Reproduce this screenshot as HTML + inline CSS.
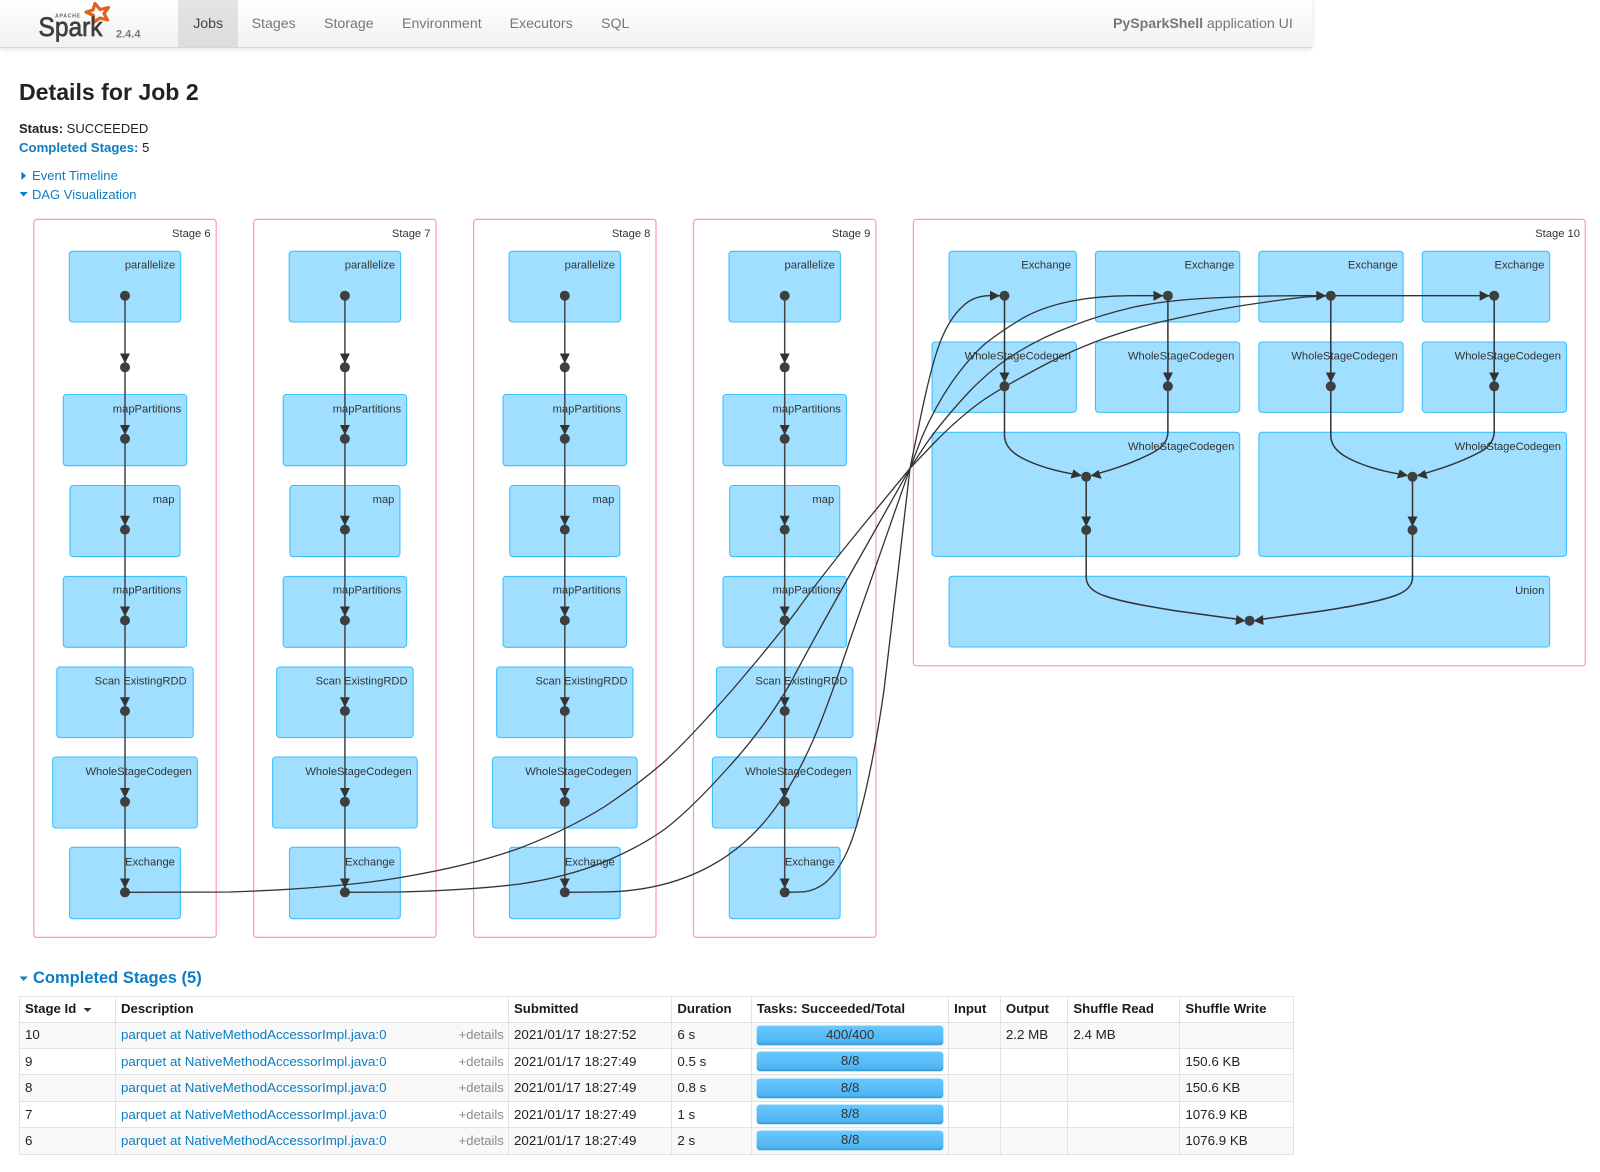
<!DOCTYPE html>
<html><head><meta charset="utf-8"><title>Details for Job 2</title>
<style>
html,body{margin:0;padding:0;background:#fff}
body{width:1600px;height:1172px;overflow:hidden;position:relative;font-family:"Liberation Sans",Arial,sans-serif;font-size:13px;color:#222}
#w{position:absolute;left:0;top:0;width:1600px;height:1172px;filter:blur(.3px)}
.a{position:absolute;white-space:nowrap}
a,.l{color:#0a7dc4;text-decoration:none}
#nav{position:absolute;left:0;top:0;width:1312px;height:47px;background:linear-gradient(#ffffff,#f1f1f1);border-bottom:1px solid #d5d5d5;box-shadow:0 1px 5px rgba(0,0,0,.12)}
#tab{position:absolute;left:178px;top:0;width:59.5px;height:47px;background:linear-gradient(#e4e4e4,#dcdcdc)}
.n{position:absolute;top:14.5px;font-size:14.2px;color:#777;line-height:18px;white-space:nowrap}
table{position:absolute;left:18.8px;top:996px;width:1274.4px;table-layout:fixed;border-collapse:collapse;font-size:13.35px;color:#222}
td,th{border:1.5px solid #e3e3e3;padding:0 0 0 5.2px;height:25.35px;text-align:left;overflow:hidden;white-space:nowrap;line-height:16px}
th{font-weight:bold;color:#1a1a1a;font-size:13.2px;height:24.8px}
tr.o td{background:#f8f8f8}
.b{height:19px;margin:0 5px 0 0.5px;border-radius:3px;background:linear-gradient(#66c8ff,#56b8f4 70%,#48ade9);text-align:center;line-height:18px;color:#333;box-shadow:0 -1.5px 0 #3a9ddd inset,0 0 0 .5px #7ccfff}
.d{float:right;color:#8a8a8a;margin-right:4px}
svg text{font-family:"Liberation Sans",Arial,sans-serif;font-size:11.2px;fill:#333}
</style></head><body><div id="w">
<div id="nav"><div id="tab"></div>
<svg class="a" style="left:0;top:0" width="170" height="47">
<polygon points="95,3.5 100,9.5 108.5,7.5 104,13.5 107.5,20 100,18 93.5,22.5 93.5,15.5 86,12 93,10" fill="none" stroke="#e0601e" stroke-width="3.2" stroke-linejoin="round"/>
<text x="55" y="17.5" style="font-size:5.2px;font-weight:bold;fill:#666;letter-spacing:.7px">APACHE</text>
<text x="38.5" y="36" textLength="64" lengthAdjust="spacingAndGlyphs" style="font-size:27px;fill:#3f3f3f;stroke:#3f3f3f;stroke-width:.7px">Spark</text>
<text x="116" y="37.5" style="font-size:11px;font-weight:bold;fill:#7a7a7a">2.4.4</text>
</svg>
<div class="n" style="left:193.2px;color:#444">Jobs</div>
<div class="n" style="left:251.6px">Stages</div>
<div class="n" style="left:324px">Storage</div>
<div class="n" style="left:402px">Environment</div>
<div class="n" style="left:509.6px">Executors</div>
<div class="n" style="left:601px">SQL</div>
<div class="n" style="left:1113px;color:#777"><b style="letter-spacing:-.06px">PySparkShell</b> application UI</div>
</div>

<div class="a" style="left:19px;top:77.5px;font-size:23.1px;font-weight:bold;line-height:28px;color:#222">Details for Job 2</div>
<div class="a" style="left:19px;top:120.5px;line-height:16px"><b>Status:</b> SUCCEEDED</div>
<div class="a" style="left:19px;top:139.5px;line-height:16px"><b class="l" style="font-size:13.2px">Completed Stages:</b> 5</div>
<div class="a l" style="left:32px;top:167.5px;line-height:16px;font-size:13.1px">Event Timeline</div>
<div class="a l" style="left:32px;top:186.5px;line-height:16px">DAG Visualization</div>
<div class="a l" style="left:33px;top:968px;font-size:16.5px;font-weight:bold;line-height:21px">Completed Stages (5)</div>

<svg class="a" style="left:0;top:0" width="1600" height="1172" viewBox="0 0 1600 1172">
<polygon points="21.4,171.5 26,175.7 21.4,180" fill="#0a7dc4"/>
<polygon points="19.6,192 27.7,192 23.6,196.5" fill="#0a7dc4"/>
<polygon points="19.6,976.5 27.7,976.5 23.6,981" fill="#0a7dc4"/>
<polygon points="83.5,1008 91.5,1008 87.5,1012" fill="#333"/>

<defs>
<g id="sb">
<rect x="-91.2" y="219.4" width="182.4" height="718" rx="3" fill="#fff" stroke="#ff99ac" stroke-width="1.2"/>
<g fill="#a0dfff" stroke="#3ec0ff" stroke-width="1.1">
<rect x="-55.7" y="251.3" width="111.4" height="70.7" rx="3"/>
<rect x="-61.7" y="394.5" width="123.4" height="71.2" rx="3"/>
<rect x="-55" y="485.5" width="110" height="71.1" rx="3"/>
<rect x="-61.7" y="576.4" width="123.4" height="70.9" rx="3"/>
<rect x="-68.2" y="667" width="136.4" height="70.6" rx="3"/>
<rect x="-72.3" y="757" width="144.6" height="71" rx="3"/>
<rect x="-55.4" y="847.3" width="110.8" height="71.4" rx="3"/>
</g>
</g>
<g id="sd">
<line x1="0" y1="295.7" x2="0" y2="892.3" stroke="#444" stroke-width="1.5"/>
<g fill="#333">
<polygon points="-5,353.5 5,353.5 0,363.5"/>
<polygon points="-5,425 5,425 0,435"/>
<polygon points="-5,515.8 5,515.8 0,525.8"/>
<polygon points="-5,606.5 5,606.5 0,616.5"/>
<polygon points="-5,697.2 5,697.2 0,707.2"/>
<polygon points="-5,788 5,788 0,798"/>
<polygon points="-5,878.5 5,878.5 0,888.5"/>
</g>
<g fill="#3f3f3f">
<circle cy="295.7" r="5"/><circle cy="367.3" r="5"/><circle cy="438.8" r="5"/><circle cy="529.6" r="5"/><circle cy="620.4" r="5"/><circle cy="711" r="5"/><circle cy="801.8" r="5"/><circle cy="892.3" r="5"/>
</g>
</g>
</defs>

<use href="#sb" x="125" y="0"/><use href="#sb" x="344.9" y="0"/><use href="#sb" x="564.8" y="0"/><use href="#sb" x="784.7" y="0"/>

<rect x="913.4" y="219.4" width="671.9" height="446.4" rx="3" fill="#fff" stroke="#ff99ac" stroke-width="1.2"/>
<g fill="#a0dfff" stroke="#3ec0ff" stroke-width="1.1">
<rect x="949.1" y="251.3" width="127.2" height="70.7" rx="3"/>
<rect x="1095.5" y="251.3" width="144.2" height="70.7" rx="3"/>
<rect x="1258.9" y="251.3" width="144.2" height="70.7" rx="3"/>
<rect x="1422.3" y="251.3" width="127.3" height="70.7" rx="3"/>
<rect x="932.1" y="342" width="144.2" height="70.3" rx="3"/>
<rect x="1095.5" y="342" width="144.2" height="70.3" rx="3"/>
<rect x="1258.9" y="342" width="144.2" height="70.3" rx="3"/>
<rect x="1422.3" y="342" width="144.2" height="70.3" rx="3"/>
<rect x="932.1" y="432.3" width="307.6" height="124" rx="3"/>
<rect x="1258.9" y="432.3" width="307.6" height="124" rx="3"/>
<rect x="949.1" y="576.3" width="600.5" height="70.7" rx="3"/>
</g>

<g text-anchor="end">
<text x="210.6" y="237">Stage 6</text><text x="175.2" y="268.4">parallelize</text><text x="181.2" y="412.3">mapPartitions</text><text x="174.5" y="502.9">map</text><text x="181.2" y="593.4">mapPartitions</text><text x="186.7" y="684.3">Scan ExistingRDD</text><text x="191.8" y="774.9">WholeStageCodegen</text><text x="174.9" y="865.4">Exchange</text>
<text x="430.5" y="237">Stage 7</text><text x="395.1" y="268.4">parallelize</text><text x="401.1" y="412.3">mapPartitions</text><text x="394.4" y="502.9">map</text><text x="401.1" y="593.4">mapPartitions</text><text x="407.6" y="684.3">Scan ExistingRDD</text><text x="411.7" y="774.9">WholeStageCodegen</text><text x="394.8" y="865.4">Exchange</text>
<text x="650.4" y="237">Stage 8</text><text x="615" y="268.4">parallelize</text><text x="621" y="412.3">mapPartitions</text><text x="614.3" y="502.9">map</text><text x="621" y="593.4">mapPartitions</text><text x="627.5" y="684.3">Scan ExistingRDD</text><text x="631.6" y="774.9">WholeStageCodegen</text><text x="614.7" y="865.4">Exchange</text>
<text x="870.3" y="237">Stage 9</text><text x="834.9" y="268.4">parallelize</text><text x="840.9" y="412.3">mapPartitions</text><text x="834.2" y="502.9">map</text><text x="840.9" y="593.4">mapPartitions</text><text x="847.4" y="684.3">Scan ExistingRDD</text><text x="851.5" y="774.9">WholeStageCodegen</text><text x="834.6" y="865.4">Exchange</text>
<text x="1580" y="237">Stage 10</text>
<text x="1071" y="268.4">Exchange</text><text x="1234.3" y="268.4">Exchange</text><text x="1397.7" y="268.4">Exchange</text><text x="1544.3" y="268.4">Exchange</text>
<text x="1071" y="359.4">WholeStageCodegen</text><text x="1234.3" y="359.4">WholeStageCodegen</text><text x="1397.7" y="359.4">WholeStageCodegen</text><text x="1561" y="359.4">WholeStageCodegen</text>
<text x="1234.3" y="449.9">WholeStageCodegen</text><text x="1561" y="449.9">WholeStageCodegen</text>
<text x="1544.3" y="594">Union</text>
</g>

<use href="#sd" x="125" y="0"/><use href="#sd" x="344.9" y="0"/><use href="#sd" x="564.8" y="0"/><use href="#sd" x="784.7" y="0"/>

<g fill="none" stroke="#333" stroke-width="1.3">
<path d="M125,892.3 L230,892 Q345,888 409,876 Q473,865 520,848 Q567,830 604,807 Q640,783 665,761 Q690,738 733,689 Q775,640 798,609 Q820,578 865,523 L910,468.3"/>
<path d="M345,892.3 L400,892 Q473,890 520,884 Q567,877 604,862 Q640,847 665,829 Q690,810 726,770 Q763,730 790,684 Q813,640 860,557 L910,468.3"/>
<path d="M565,892.3 L600,892 C680,892 735,860 770,815 C805,770 825,715 850,640 C870,583 890,526 910,468.3"/>
<path d="M785,892.3 L800,892 Q813,892 825,883 Q837,873 847,852 Q857,830 867,785 Q877,740 884,690 Q890,640 900,555 L910,468.3"/>
<path d="M910,468.3 L920,420 Q931.7,363 941,340 Q950,318 962,307 Q973,295.7 990,295.7 L1004.5,295.7"/>
<path d="M910,468.3 L922,437 Q935,406.7 952,382 Q970,356.7 986,343 Q1003,330 1023,318 Q1043,306.7 1072,301 Q1100,295.7 1130,295.7 L1167.9,295.7"/>
<path d="M910,468.3 L926,444 Q943,420 968,393 Q993,366.7 1018,352 Q1043,336.7 1072,326 Q1100,315 1134,307 Q1168,300 1212,298 Q1257,295.7 1300,295.7 L1494.2,295.7"/>
<path d="M910,468.3 L935,442 Q960,416.7 982,401 Q1004,386 1052,361 Q1100,336.7 1156,323 Q1212,310 1246,305 Q1279,300 1305,297 L1330.8,295.7"/>
<path d="M1004.5,295.7 V436 Q1005,449 1022,458 Q1045,470 1081,475.3" stroke-width="1.5"/>
<path d="M1167.9,295.7 V433 Q1167,445 1154,452 Q1130,465 1091.5,475.3" stroke-width="1.5"/>
<path d="M1330.8,295.7 V436 Q1331,449 1348,458 Q1371,470 1407,475.3" stroke-width="1.5"/>
<path d="M1494.2,295.7 V433 Q1493,445 1480,452 Q1456,465 1417.8,475.3" stroke-width="1.5"/>
<path d="M1086.2,476.7 V578 Q1087,590 1105,596 Q1125,603 1177,611 L1243,620" stroke-width="1.5"/>
<path d="M1412.5,476.7 V578 Q1412,590 1394,596 Q1374,603 1322,611 L1256,620" stroke-width="1.5"/>
</g>
<g fill="#333">
<polygon points="990,290.7 990,300.7 1000,295.7"/>
<polygon points="1153.4,290.7 1153.4,300.7 1163.4,295.7"/>
<polygon points="1316.3,290.7 1316.3,300.7 1326.3,295.7"/>
<polygon points="1479.7,290.7 1479.7,300.7 1489.7,295.7"/>
<polygon points="999.5,372.5 1009.5,372.5 1004.5,382.5"/>
<polygon points="1162.9,372.5 1172.9,372.5 1167.9,382.5"/>
<polygon points="1325.8,372.5 1335.8,372.5 1330.8,382.5"/>
<polygon points="1489.2,372.5 1499.2,372.5 1494.2,382.5"/>
<polygon points="1073.5,469.5 1070.5,478.5 1082,475.7"/>
<polygon points="1098.5,470 1101.5,479 1090.5,475.7"/>
<polygon points="1399.8,469.5 1396.8,478.5 1408.3,475.7"/>
<polygon points="1424.8,470 1427.8,479 1416.8,475.7"/>
<polygon points="1081.2,516.5 1091.2,516.5 1086.2,526.5"/>
<polygon points="1407.5,516.5 1417.5,516.5 1412.5,526.5"/>
<polygon points="1236.5,615 1235.5,625 1245.5,620.7"/>
<polygon points="1263,615 1263.5,625 1253.5,620.7"/>
</g>
<g fill="#3f3f3f">
<circle cx="1004.5" cy="295.7" r="5"/><circle cx="1167.9" cy="295.7" r="5"/><circle cx="1330.8" cy="295.7" r="5"/><circle cx="1494.2" cy="295.7" r="5"/>
<circle cx="1004.5" cy="386.3" r="5"/><circle cx="1167.9" cy="386.3" r="5"/><circle cx="1330.8" cy="386.3" r="5"/><circle cx="1494.2" cy="386.3" r="5"/>
<circle cx="1086.2" cy="476.7" r="5"/><circle cx="1412.5" cy="476.7" r="5"/>
<circle cx="1086.2" cy="530" r="5"/><circle cx="1412.5" cy="530" r="5"/>
<circle cx="1249.6" cy="620.7" r="5"/>
</g>
</svg>

<table>
<colgroup><col style="width:96px"><col style="width:393px"><col style="width:163.4px"><col style="width:79.4px"><col style="width:197.4px"><col style="width:51.7px"><col style="width:67.5px"><col style="width:112px"><col style="width:114px"></colgroup>
<tr><th>Stage Id</th><th>Description</th><th>Submitted</th><th>Duration</th><th>Tasks: Succeeded/Total</th><th>Input</th><th>Output</th><th>Shuffle Read</th><th>Shuffle Write</th></tr>
<tr class="o"><td>10</td><td><a>parquet at NativeMethodAccessorImpl.java:0</a><span class="d" style="font-size:13px">+details</span></td><td>2021/01/17 18:27:52</td><td>6 s</td><td><div class="b">400/400</div></td><td></td><td>2.2 MB</td><td>2.4 MB</td><td></td></tr>
<tr><td>9</td><td><a>parquet at NativeMethodAccessorImpl.java:0</a><span class="d" style="font-size:13px">+details</span></td><td>2021/01/17 18:27:49</td><td>0.5 s</td><td><div class="b">8/8</div></td><td></td><td></td><td></td><td>150.6 KB</td></tr>
<tr class="o"><td>8</td><td><a>parquet at NativeMethodAccessorImpl.java:0</a><span class="d" style="font-size:13px">+details</span></td><td>2021/01/17 18:27:49</td><td>0.8 s</td><td><div class="b">8/8</div></td><td></td><td></td><td></td><td>150.6 KB</td></tr>
<tr><td>7</td><td><a>parquet at NativeMethodAccessorImpl.java:0</a><span class="d" style="font-size:13px">+details</span></td><td>2021/01/17 18:27:49</td><td>1 s</td><td><div class="b">8/8</div></td><td></td><td></td><td></td><td>1076.9 KB</td></tr>
<tr class="o"><td>6</td><td><a>parquet at NativeMethodAccessorImpl.java:0</a><span class="d" style="font-size:13px">+details</span></td><td>2021/01/17 18:27:49</td><td>2 s</td><td><div class="b">8/8</div></td><td></td><td></td><td></td><td>1076.9 KB</td></tr>
</table>
</div></body></html>
